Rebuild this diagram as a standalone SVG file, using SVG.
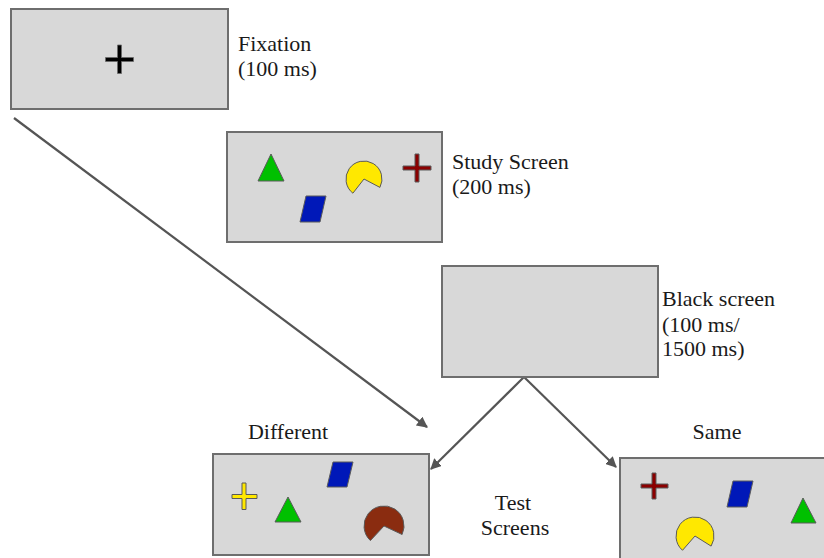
<svg xmlns="http://www.w3.org/2000/svg" width="824" height="558" viewBox="0 0 824 558">
  <defs>
    <style>
      .screen { fill: #d8d8d8; stroke: #6e6e6e; stroke-width: 2; }
      .label { font-family: "Liberation Serif", "Times New Roman", serif; font-size: 22px; fill: #1a1a1a; }
      .mid { text-anchor: middle; }
      .shape { stroke: #5a5a5a; stroke-width: 1; stroke-linejoin: round; }
      .tri { fill: #00c000; }
      .para { fill: #0018b8; }
      .yellow { fill: #ffe800; }
      .brown { fill: #8a2c10; }
      .red { fill: #8b0000; }
      .black { fill: #000; stroke: #6a6a6a; stroke-width: 0.8; }
      .conn { stroke: #555; stroke-width: 2.2; fill: none; marker-end: url(#head); }
    </style>
    <marker id="head" viewBox="0 0 10 10" refX="9" refY="5" markerWidth="5" markerHeight="5" orient="auto" markerUnits="strokeWidth">
      <path d="M0,0 L10,5 L0,10 Z" fill="#555"/>
    </marker>
  </defs>

  <rect width="824" height="558" fill="#ffffff"/>

  <!-- connectors -->
  <g id="connectors">
    <line class="conn" x1="14" y1="118" x2="427" y2="427"/>
    <line class="conn" x1="524" y1="377" x2="431" y2="469"/>
    <line class="conn" x1="524" y1="377" x2="616" y2="467"/>
  </g>

  <!-- fixation screen -->
  <g id="fixation">
    <rect class="screen" x="11" y="9" width="217" height="100"/>
    <path class="black" d="M117.5,45 h4 v12.5 h12 v4 h-12 v12 h-4 v-12 h-12 v-4 h12 Z"/>
    <text class="label" x="238" y="51">Fixation</text>
    <text class="label" x="238" y="76">(100 ms)</text>
  </g>

  <!-- study screen -->
  <g id="study">
    <rect class="screen" x="227" y="132" width="215" height="110"/>
    <polygon class="shape tri" points="271,154 284,181 258,181"/>
    <polygon class="shape para" points="306,196 326,196 320,222 300,222"/>
    <path class="shape yellow" d="M364,179 L379.9,187.4 A18,18 0 1 0 352.9,193.2 Z"/>
    <path class="shape red" d="M415,154 h4 v12 h12 v4 h-12 v12 h-4 v-12 h-12 v-4 h12 Z"/>
    <text class="label" x="452" y="169">Study Screen</text>
    <text class="label" x="452" y="194">(200 ms)</text>
  </g>

  <!-- blank interval screen -->
  <g id="black-screen">
    <rect class="screen" x="442" y="266" width="216" height="111"/>
    <text class="label" x="662" y="306">Black screen</text>
    <text class="label" x="662" y="332">(100 ms/</text>
    <text class="label" x="662" y="356">1500 ms)</text>
  </g>

  <!-- test screen: different -->
  <g id="test-different">
    <text class="label mid" x="288" y="439">Different</text>
    <rect class="screen" x="213" y="454" width="216" height="101"/>
    <path class="shape yellow" d="M242,483 h4 v11.5 h11 v4 h-11 v11 h-4 v-11 h-10 v-4 h10 Z"/>
    <polygon class="shape tri" points="288,497 301,522 275,522"/>
    <polygon class="shape para" points="333,462 353,462 347,487 327,487"/>
    <path class="shape brown" d="M384,526 L402.1,534.5 A20,20 0 1 0 370.4,540.6 Z"/>
  </g>

  <!-- caption between the test screens -->
  <g id="test-caption">
    <text class="label mid" x="513" y="510">Test</text>
    <text class="label mid" x="515" y="535">Screens</text>
  </g>

  <!-- test screen: same -->
  <g id="test-same">
    <text class="label mid" x="717" y="439">Same</text>
    <rect class="screen" x="620" y="458" width="215" height="110"/>
    <path class="shape red" d="M652,473 h4 v11 h12 v4 h-12 v11 h-4 v-11 h-11 v-4 h11 Z"/>
    <polygon class="shape para" points="733,481 753,481 747,507 727,507"/>
    <path class="shape yellow" d="M695,536 L711.1,546.1 A19,19 0 1 0 682.5,550.3 Z"/>
    <polygon class="shape tri" points="803,498 816,523 791,523"/>
  </g>
</svg>
